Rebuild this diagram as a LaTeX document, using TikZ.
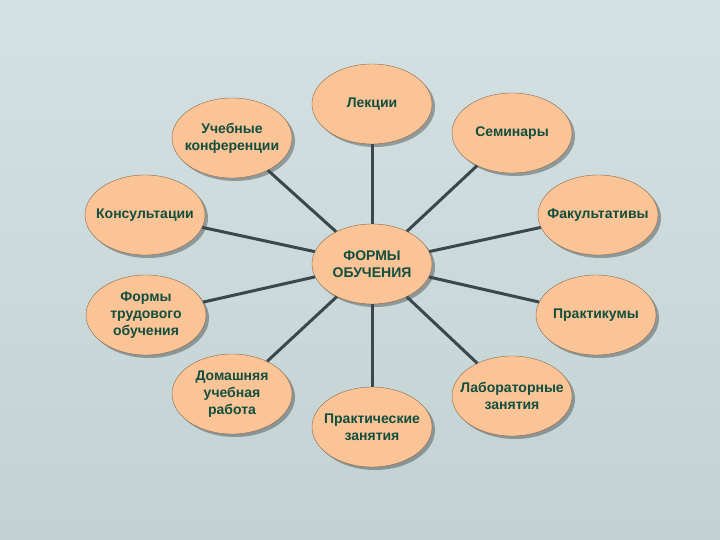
\documentclass[tikz,border=0pt]{standalone}
\usepackage{fontspec}
\setmainfont{Liberation Sans}
\usetikzlibrary{shapes.geometric}
\usetikzlibrary{shadows}
\definecolor{bgpale}{RGB}{212,225,226}
\definecolor{bgblue}{RGB}{194,210,211}
\definecolor{peach}{RGB}{250,196,150}
\definecolor{rimbrown}{RGB}{140,105,80}
\definecolor{inkgreen}{RGB}{18,78,62}
\definecolor{spokegrey}{RGB}{58,72,76}
\tikzstyle{form}=[ellipse,draw=rimbrown,thin,fill=peach,
	minimum width=120pt,minimum height=80pt,inner xsep=-10pt,inner ysep=0pt,align=center,
	text=inkgreen,font=\fontsize{14}{17}\selectfont\bfseries,
	drop shadow={shadow xshift=3pt,shadow yshift=-3pt,fill=black,opacity=.3}]
\tikzstyle{spoke}=[draw=spokegrey,line width=3pt]

\begin{document}
\begin{tikzpicture}[x=1pt,y=-1pt]
			\shade[top color=bgpale,bottom color=bgblue] (0,0) rectangle (720,540);
			\node[form] (formy) at (372,264) {ФОРМЫ\\ОБУЧЕНИЯ};
			\node[form] (lekcii) at (372,104) {Лекции};
			\node[form] (konf) at (232,138) {Учебные\\конференции};
			\node[form] (seminary) at (512,133) {Семинары};
			\node[form] (konsult) at (145,215) {Консультации};
			\node[form] (fakult) at (598,215) {Факультативы};
			\node[form] (trud) at (146,315) {Формы\\трудового\\обучения};
			\node[form] (praktikum) at (596,315) {Практикумы};
			\node[form] (doma) at (232,394) {Домашняя\\учебная\\работа};
			\node[form] (prakt) at (372,427) {Практические\\занятия};
			\node[form] (lab) at (512,396) {Лабораторные\\занятия};
			\foreach \n in {lekcii,konf,seminary,konsult,fakult,trud,praktikum,doma,prakt,lab}
				\draw[spoke] (formy) -- (\n);
		\end{tikzpicture}
\end{document}
